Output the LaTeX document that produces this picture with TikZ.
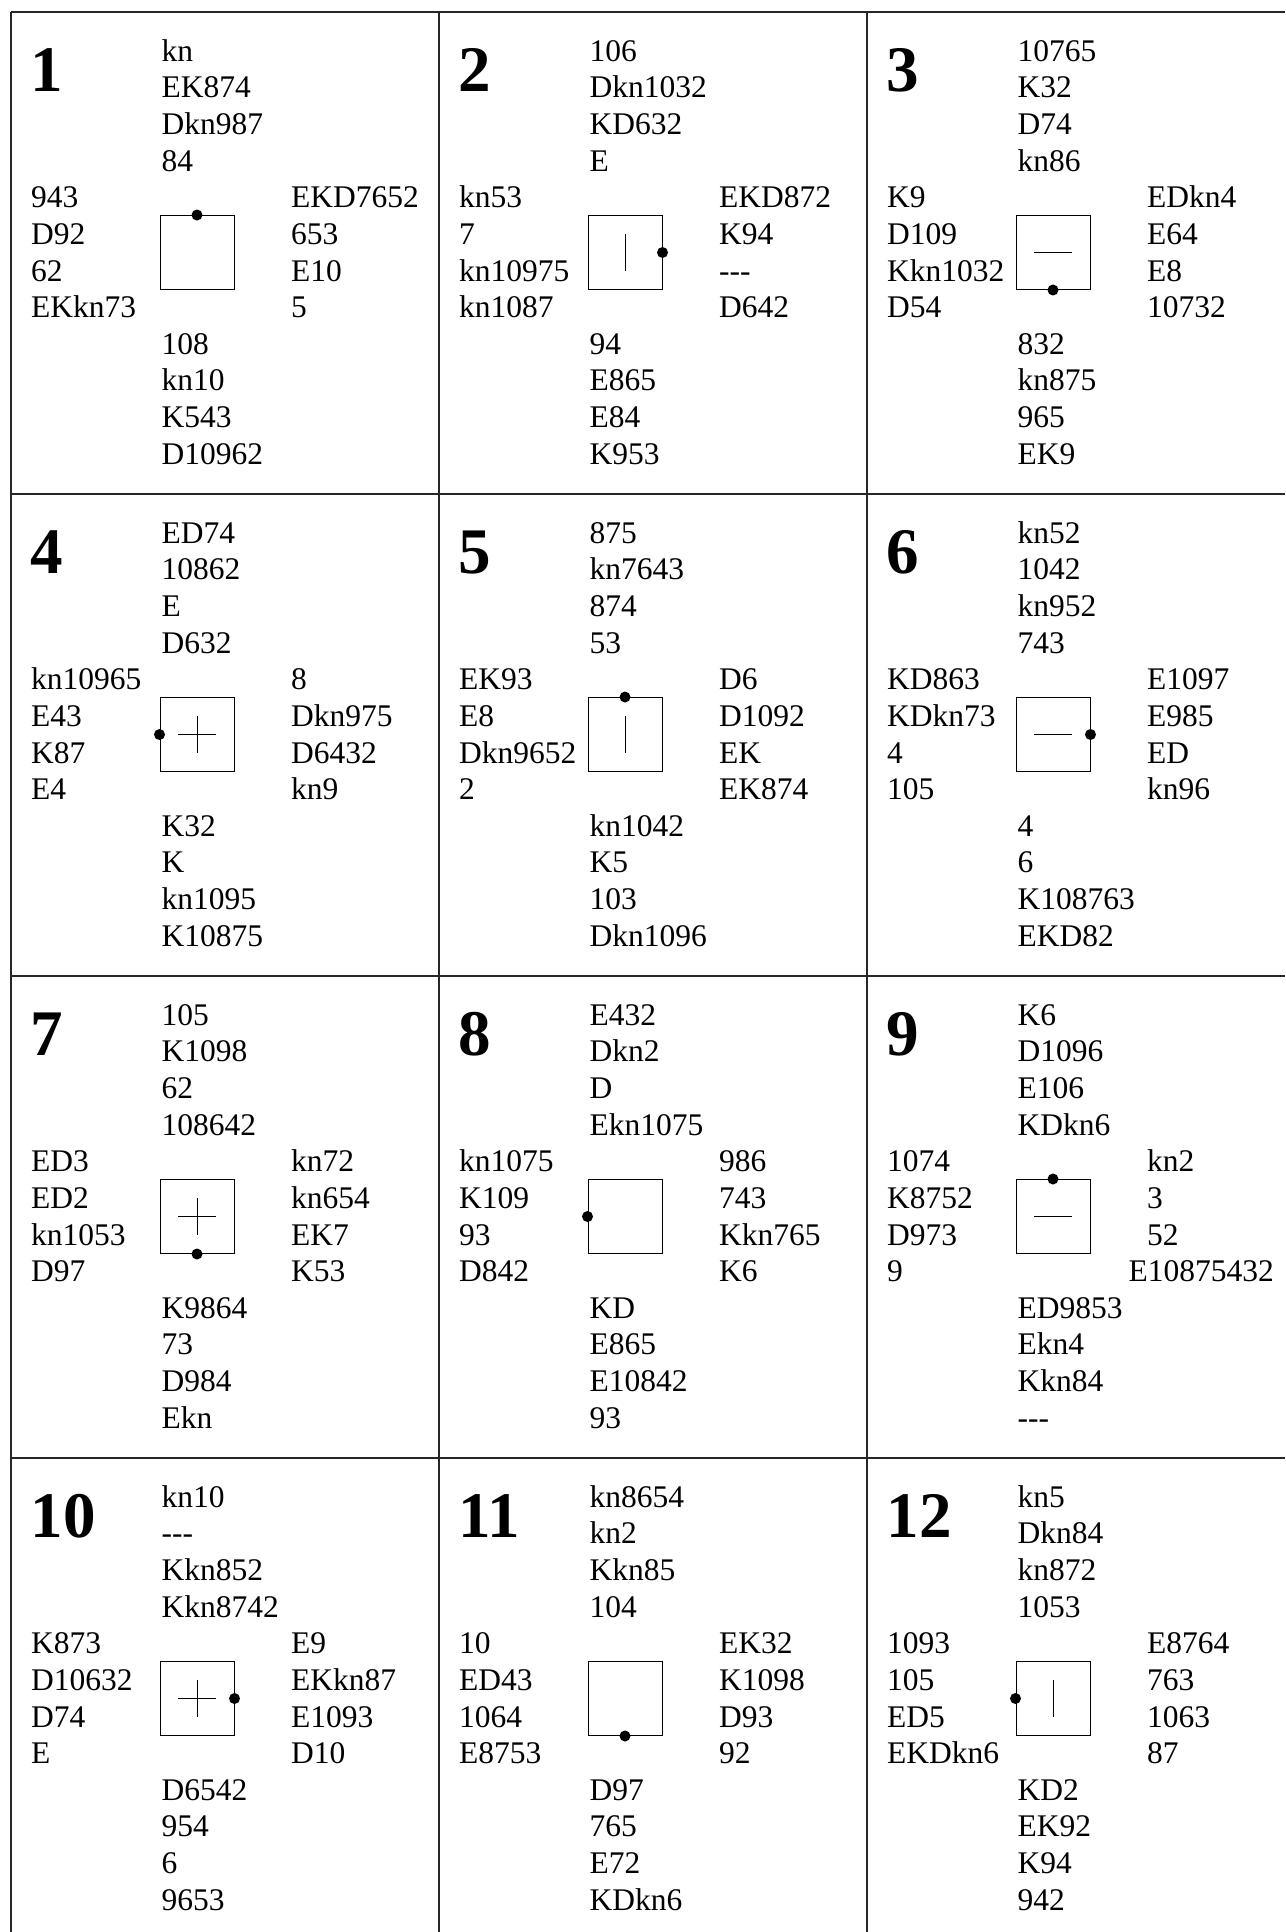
\documentclass[tikz,border=0pt]{standalone}
\usepackage{fontspec}
\setmainfont{Liberation Serif}

\tikzset{
  card/.style={anchor=base west,inner sep=0pt,font=\fontsize{8.96pt}{10pt}\selectfont},
  bdno/.style={anchor=base west,inner sep=0pt,font=\fontsize{18.5pt}{20pt}\selectfont\bfseries},
  vulbox/.style={draw=black,line width=0.28pt,minimum size=7.4mm,inner sep=0pt},
  vulmark/.style={draw=black,line width=0.25pt},
  dealer/.style={circle,fill=black,minimum size=1.1mm,inner sep=0pt},
  tablerule/.style={draw=black!85,line width=0.36pt}
}

% #1 board, #2 cell origin, #3 N, #4 W, #5 E, #6 S, #7 vul (0 none,1 NS,2 EW,3 all), #8 dealer side
\newcommand{\deal}[8]{%
  \begin{scope}[shift={#2}]
    \node[bdno] (no#1) at (19,79) {#1};
    \foreach \crd [count=\idx] in {#3} \node[card] (n#1-\idx) at (150,{49+36.67*(\idx-1)}) {\crd};
    \foreach \crd [count=\idx] in {#4} \node[card] (w#1-\idx) at (19.5,{195.7+36.67*(\idx-1)}) {\crd};
    \foreach \crd [count=\idx] in {#5} \node[card] (e#1-\idx) at (279.5,{195.7+36.67*(\idx-1)}) {\crd};
    \foreach \crd [count=\idx] in {#6} \node[card] (s#1-\idx) at (150,{342.3+36.67*(\idx-1)}) {\crd};
    \node[vulbox] (sq#1) at (186,240.5) {};
    \ifcase#7\or
      \draw[vulmark] ([yshift=1.85mm]sq#1.center) -- ([yshift=-1.85mm]sq#1.center);
    \or
      \draw[vulmark] ([xshift=-1.9mm]sq#1.center) -- ([xshift=1.9mm]sq#1.center);
    \or
      \draw[vulmark] ([yshift=1.85mm]sq#1.center) -- ([yshift=-1.85mm]sq#1.center);
      \draw[vulmark] ([xshift=-1.9mm]sq#1.center) -- ([xshift=1.9mm]sq#1.center);
    \fi
    \node[dealer] (dl#1) at (sq#1.#8) {};
  \end{scope}}

\begin{document}
\begin{tikzpicture}[x=0.1mm,y=-0.1mm]
  \useasboundingbox (0,0) rectangle (1285,1932);
  % table rules
  \foreach \ry in {12,494,976,1458} \draw[tablerule] (11,\ry) -- (1285,\ry);
  \foreach \rx in {11,439,867} \draw[tablerule] (\rx,12) -- (\rx,1932);
  % row 1
  \deal{1}{(11,12)}{kn,EK874,Dkn987,84}{943,D92,62,EKkn73}{EKD7652,653,E10,5}{108,kn10,K543,D10962}{0}{north}
  \deal{2}{(439,12)}{106,Dkn1032,KD632,E}{kn53,7,kn10975,kn1087}{EKD872,K94,-{}-{}-,D642}{94,E865,E84,K953}{1}{east}
  \deal{3}{(867,12)}{10765,K32,D74,kn86}{K9,D109,Kkn1032,D54}{EDkn4,E64,E8,10732}{832,kn875,965,EK9}{2}{south}
  % row 2
  \deal{4}{(11,494)}{ED74,10862,E,D632}{kn10965,E43,K87,E4}{8,Dkn975,D6432,kn9}{K32,K,kn1095,K10875}{3}{west}
  \deal{5}{(439,494)}{875,kn7643,874,53}{EK93,E8,Dkn9652,2}{D6,D1092,EK,EK874}{kn1042,K5,103,Dkn1096}{1}{north}
  \deal{6}{(867,494)}{kn52,1042,kn952,743}{KD863,KDkn73,4,105}{E1097,E985,ED,kn96}{4,6,K108763,EKD82}{2}{east}
  % row 3
  \deal{7}{(11,976)}{105,K1098,62,108642}{ED3,ED2,kn1053,D97}{kn72,kn654,EK7,K53}{K9864,73,D984,Ekn}{3}{south}
  \deal{8}{(439,976)}{E432,Dkn2,D,Ekn1075}{kn1075,K109,93,D842}{986,743,Kkn765,K6}{KD,E865,E10842,93}{0}{west}
  \deal{9}{(867,976)}{K6,D1096,E106,KDkn6}{1074,K8752,D973,9}{kn2,3,52}{ED9853,Ekn4,Kkn84,-{}-{}-}{2}{north}
  \node[card] (e9-4) at (1128,1281.7) {E10875432};
  % row 4
  \deal{10}{(11,1458)}{kn10,-{}-{}-,Kkn852,Kkn8742}{K873,D10632,D74,E}{E9,EKkn87,E1093,D10}{D6542,954,6,9653}{3}{east}
  \deal{11}{(439,1458)}{kn8654,kn2,Kkn85,104}{10,ED43,1064,E8753}{EK32,K1098,D93,92}{D97,765,E72,KDkn6}{0}{south}
  \deal{12}{(867,1458)}{kn5,Dkn84,kn872,1053}{1093,105,ED5,EKDkn6}{E8764,763,1063,87}{KD2,EK92,K94,942}{1}{west}
\end{tikzpicture}
\end{document}
